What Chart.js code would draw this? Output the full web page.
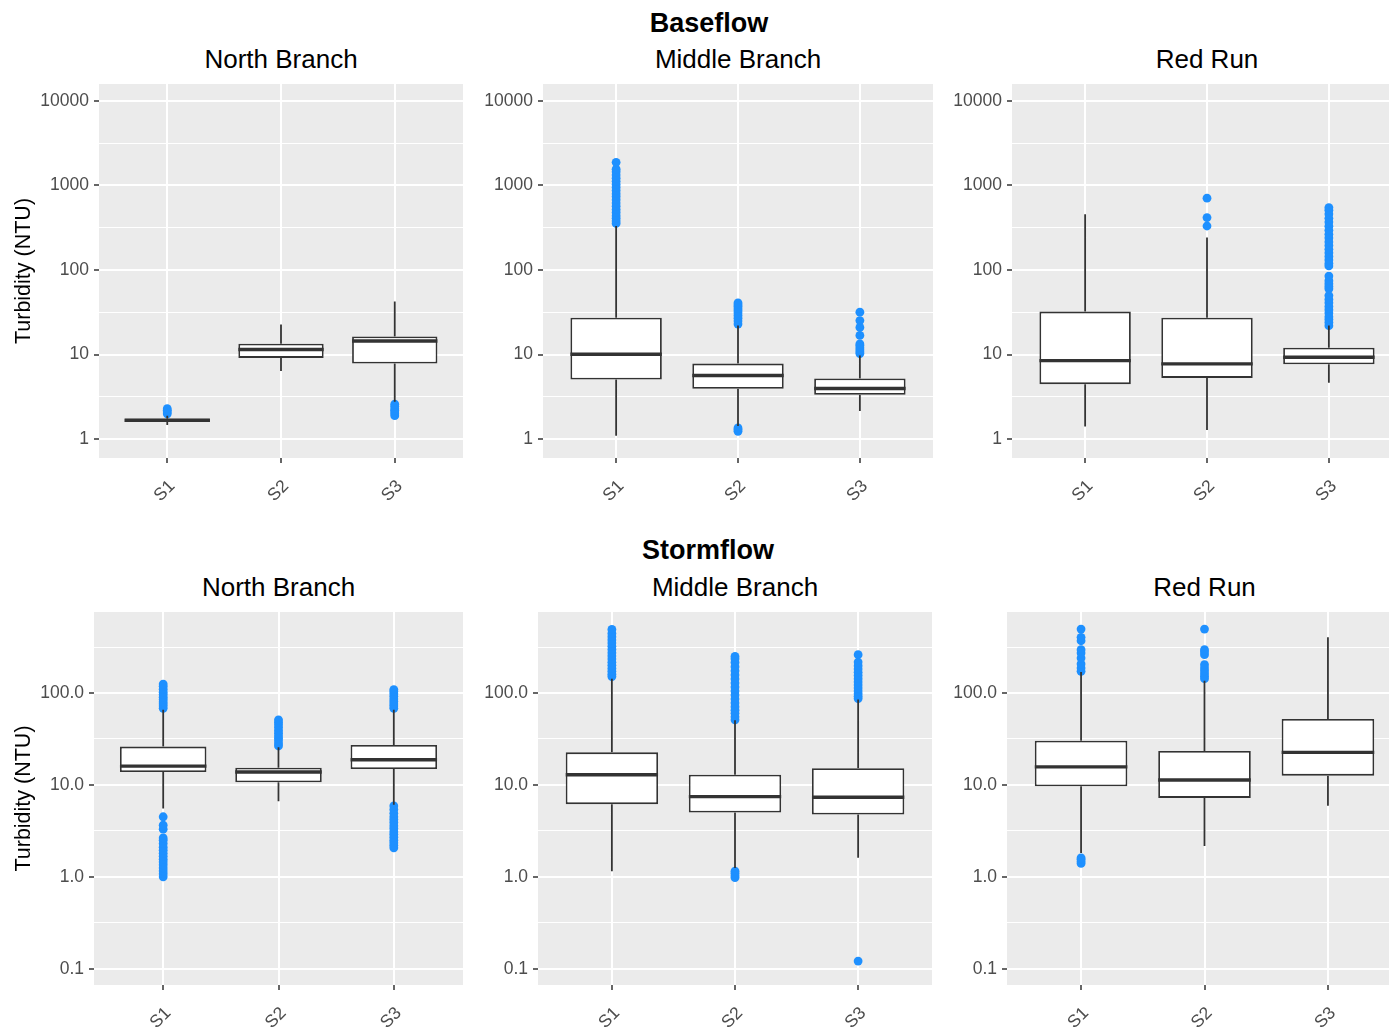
<!DOCTYPE html>
<html>
<head>
<meta charset="utf-8">
<title>Turbidity by site</title>
<script src="https://cdn.jsdelivr.net/npm/chart.js@4.4.1/dist/chart.umd.min.js"></script>
<style>
  html, body { margin: 0; padding: 0; background: #fff; overflow: hidden; }
  body { width: 1389px; height: 1031px; position: relative; font-family: 'Liberation Sans', Arial, sans-serif; }
  .title { position: absolute; text-align: center; color: #000; white-space: nowrap; }
  .main { font-size: 27px; line-height: 27px; font-weight: bold; }
  .panel { font-size: 26px; line-height: 26px; }
  canvas { position: absolute; }
</style>
</head>
<body>
<script>
const sites = ['S1', 'S2', 'S3'];

// box stats per site: [lower whisker, Q1, median, Q3, upper whisker]
const baseNorthBox = [[1.47, 1.60, 1.68, 1.75, 1.9], [6.4, 9.15, 11.5, 13.5, 22.7], [2.78, 7.84, 14.5, 16.4, 42.4]];
const baseNorthOut = [[2.0, 2.1, 2.2, 2.3], [], [1.9, 2.0, 2.1, 2.2, 2.3, 2.45, 2.6]];

const baseMiddleBox = [[1.1, 5.08, 10.1, 27.3, 332], [1.43, 3.95, 5.66, 7.84, 22.1], [2.15, 3.36, 3.98, 5.22, 9.8]];
const baseMiddleOut = [
  [356, 380, 410, 440, 480, 520, 570, 620, 680, 740, 800, 870, 950, 1030, 1120, 1220, 1330, 1450, 1560, 1880],
  [1.24, 1.3, 1.36, 23, 25, 27, 29, 31, 33, 35, 37, 39, 41],
  [10.3, 10.8, 11.4, 12.1, 12.8, 13.4, 16.9, 21, 25.3, 31.8]
];

const baseRedBox = [[1.41, 4.48, 8.5, 32.3, 456], [1.29, 5.31, 7.77, 27.3, 242], [4.65, 7.69, 9.3, 12.1, 22.1]];
const baseRedOut = [
  [],
  [332, 417, 709],
  [22, 24, 26, 28, 31, 34, 37, 41, 45, 50, 60, 64, 69, 75, 85, 112, 120, 132, 145, 160, 176, 195, 215, 240, 265, 295, 330, 370, 410, 460, 510, 548]
];

const stormNorthBox = [[5.53, 13.8, 16.0, 26.1, 65.9], [6.64, 10.7, 13.8, 15.4, 25.6], [6.1, 14.9, 18.8, 27.2, 65.9]];
const stormNorthOut = [
  [1.0, 1.08, 1.16, 1.25, 1.35, 1.45, 1.55, 1.67, 1.8, 1.95, 2.1, 2.3, 2.5, 2.65, 3.3, 3.65, 4.5,
   68, 72, 76, 80, 85, 90, 96, 102, 110, 118, 125],
  [26.5, 28, 30, 32, 34, 36.5, 39, 42, 45, 48, 51],
  [2.07, 2.2, 2.35, 2.5, 2.7, 2.9, 3.1, 3.35, 3.6, 3.9, 4.2, 4.5, 4.9, 5.4, 5.9,
   68, 72, 76, 81, 86, 92, 98, 104, 109]
];

const stormMiddleBox = [[1.15, 6.17, 12.9, 22.6, 143], [1.25, 5.0, 7.46, 12.9, 50.5], [1.61, 4.77, 7.34, 15.2, 84.7]];
const stormMiddleOut = [
  [151, 160, 172, 185, 200, 216, 234, 253, 274, 297, 322, 349, 378, 410, 445, 492],
  [0.98, 1.03, 1.09, 1.15, 51, 55, 60, 65, 71, 78, 86, 95, 105, 116, 128, 142, 157, 174, 193, 215, 235, 250],
  [0.121, 87, 92, 98, 105, 113, 122, 132, 143, 155, 168, 182, 198, 217, 261]
];

const stormRedBox = [[1.82, 9.68, 15.7, 30.3, 169], [2.17, 7.22, 11.3, 23.4, 136], [5.92, 12.6, 22.6, 52.1, 403]];
const stormRedOut = [
  [1.4, 1.47, 1.55, 1.61, 172, 187, 207, 240, 272, 296, 370, 403, 496],
  [143, 152, 162, 174, 187, 203, 261, 280, 296, 496],
  []
];

const baseTicks = [1, 10, 100, 1000, 10000];
const baseTickLabels = ['1', '10', '100', '1000', '10000'];
const stormTicks = [0.1, 1, 10, 100];
const stormTickLabels = ['0.1', '1.0', '10.0', '100.0'];

const FONT = "'Liberation Sans', Arial, sans-serif";
const BOX_WIDTH = 0.75;
Chart.defaults.font.family = FONT;

const rows = {
  base: { title: 'Baseflow', titleTop: 10, top: 84, bottom: 458, xAxisH: 52, panelTitleTop: 46.3,
          min: Math.pow(10, -0.2), max: Math.pow(10, 4.2), ticks: baseTicks, labels: baseTickLabels },
  storm: { title: 'Stormflow', titleTop: 537.3, top: 612, bottom: 985, xAxisH: 46, panelTitleTop: 573.7,
           min: Math.pow(10, -1.177), max: Math.pow(10, 2.881), ticks: stormTicks, labels: stormTickLabels }
};

// the right-hand panels run past the picture edge and get cropped
const panels = [
  { row: 'base', name: 'North Branch', box: baseNorthBox, out: baseNorthOut, left: 99, right: 463, axisW: 99, yTitle: true },
  { row: 'base', name: 'Middle Branch', box: baseMiddleBox, out: baseMiddleOut, left: 543, right: 933, axisW: 60 },
  { row: 'base', name: 'Red Run', box: baseRedBox, out: baseRedOut, left: 1012, right: 1402, axisW: 60 },
  { row: 'storm', name: 'North Branch', box: stormNorthBox, out: stormNorthOut, left: 94, right: 463, axisW: 94, yTitle: true },
  { row: 'storm', name: 'Middle Branch', box: stormMiddleBox, out: stormMiddleOut, left: 538, right: 932, axisW: 60 },
  { row: 'storm', name: 'Red Run', box: stormRedBox, out: stormRedOut, left: 1007, right: 1402, axisW: 60 }
];

const panelBackground = {
  id: 'panelBackground',
  beforeDraw(chart) {
    const { ctx, chartArea: a } = chart;
    ctx.save();
    ctx.fillStyle = '#EBEBEB';
    ctx.fillRect(a.left, a.top, a.right - a.left, a.bottom - a.top);
    ctx.restore();
  }
};

function addText(cls, text, left, width, top) {
  const div = document.createElement('div');
  div.className = 'title ' + cls;
  div.textContent = text;
  div.style.left = left + 'px';
  div.style.width = width + 'px';
  div.style.top = top + 'px';
  document.body.appendChild(div);
}

addText('main', rows.base.title, 509, 400, rows.base.titleTop);
addText('main', rows.storm.title, 508, 400, rows.storm.titleTop);

function minorTicks(majors, min, max) {
  const step = Math.sqrt(10);
  const list = [majors[0] / step].concat(majors.map(t => t * step));
  return list.filter(v => v > min && v < max);
}

function buildDatasets(box, out) {
  const whiskers = [], boxes = [], medians = [], points = [];
  box.forEach((b, i) => {
    const x = i + 1;
    whiskers.push({ x, y: b[0] }, { x, y: b[1] }, { x, y: null }, { x, y: b[3] }, { x, y: b[4] }, { x, y: null });
    boxes.push({ x, y: [b[1], b[3]] });
    medians.push({ x: x - BOX_WIDTH / 2, y: b[2] }, { x: x + BOX_WIDTH / 2, y: b[2] }, { x, y: null });
    out[i].forEach(v => points.push({ x, y: v }));
  });
  return [
    { type: 'scatter', label: 'outliers', data: points, order: 4,
      pointRadius: 4.4, pointBackgroundColor: '#1E90FF', pointBorderWidth: 0 },
    { type: 'line', label: 'whiskers', data: whiskers, order: 3,
      borderColor: '#333333', borderWidth: 1.8, pointRadius: 0, spanGaps: false, tension: 0 },
    { type: 'bar', label: 'box', data: boxes, order: 2,
      backgroundColor: '#ffffff', borderColor: '#333333', borderWidth: 1.8, borderSkipped: false,
      categoryPercentage: 1, barPercentage: BOX_WIDTH },
    { type: 'line', label: 'median', data: medians, order: 1,
      borderColor: '#333333', borderWidth: 3.4, pointRadius: 0, spanGaps: false, tension: 0 }
  ];
}

panels.forEach(p => {
  const row = rows[p.row];
  const padTop = 4, padRight = 1;
  const canvas = document.createElement('canvas');
  const width = p.right - p.left + p.axisW + padRight;
  const height = row.bottom - row.top + padTop + row.xAxisH;
  canvas.width = width;
  canvas.height = height;
  canvas.style.left = (p.left - p.axisW) + 'px';
  canvas.style.top = (row.top - padTop) + 'px';
  canvas.style.width = width + 'px';
  canvas.style.height = height + 'px';
  document.body.appendChild(canvas);

  addText('panel', p.name, p.left, p.right - p.left, row.panelTitleTop);

  const majors = new Set(row.ticks);
  const allTicks = row.ticks.concat(minorTicks(row.ticks, row.min, row.max)).sort((a, b) => a - b);
  const isMajor = ctx => ctx.tick && majors.has(ctx.tick.value);

  new Chart(canvas, {
    type: 'bar',
    data: { datasets: buildDatasets(p.box, p.out) },
    options: {
      responsive: false,
      animation: false,
      events: [],
      layout: { autoPadding: false, padding: { top: padTop, right: padRight, left: 0, bottom: 0 } },
      plugins: { legend: { display: false }, tooltip: { enabled: false } },
      scales: {
        x: {
          type: 'linear',
          min: 0.4,
          max: 3.6,
          offset: false,
          afterBuildTicks: axis => { axis.ticks = sites.map((s, i) => ({ value: i + 1 })); },
          afterFit: axis => {
            axis.height = row.xAxisH;
            axis.paddingLeft = 0;
            axis.paddingRight = 0;
          },
          ticks: {
            callback: (v, i) => sites[i],
            autoSkip: false,
            minRotation: 45,
            maxRotation: 45,
            color: '#4d4d4d',
            font: { size: 17.5 },
            padding: 13,
            labelOffset: 5
          },
          grid: { offset: false, color: '#ffffff', lineWidth: 2, tickColor: '#333333', tickLength: 5, tickWidth: 1.5 },
          border: { display: false }
        },
        y: {
          type: 'logarithmic',
          min: row.min,
          max: row.max,
          afterBuildTicks: axis => { axis.ticks = allTicks.map(v => ({ value: v })); },
          afterFit: axis => {
            axis.width = p.axisW;
            axis.paddingTop = 0;
            axis.paddingBottom = 0;
          },
          ticks: {
            callback: v => {
              const k = row.ticks.indexOf(v);
              return k >= 0 ? row.labels[k] : '';
            },
            autoSkip: false,
            color: '#4d4d4d',
            font: { size: 17.5 },
            padding: 5
          },
          grid: {
            color: '#ffffff',
            lineWidth: ctx => isMajor(ctx) ? 2 : 1,
            tickColor: ctx => isMajor(ctx) ? '#333333' : 'rgba(0,0,0,0)',
            tickLength: 5,
            tickWidth: 1.5
          },
          border: { display: false },
          title: {
            display: !!p.yTitle,
            text: 'Turbidity (NTU)',
            color: '#000000',
            font: { size: 21.5 },
            padding: { top: 11, bottom: 0 }
          }
        }
      }
    },
    plugins: [panelBackground]
  });
});
</script>
</body>
</html>
